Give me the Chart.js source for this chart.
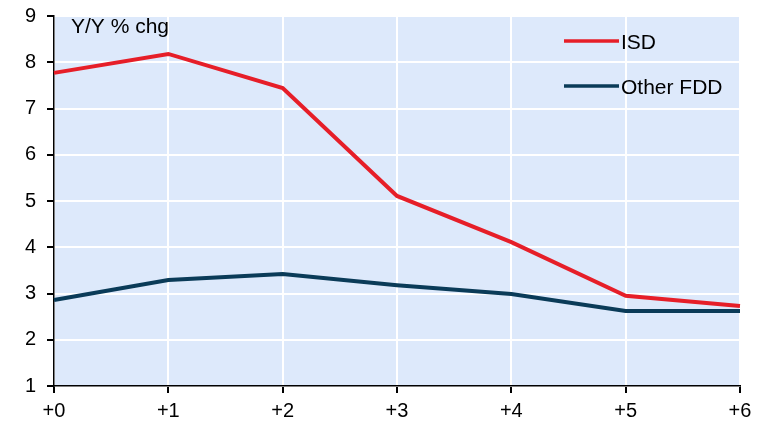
<!DOCTYPE html>
<html><head><meta charset="utf-8">
<script src="https://cdn.jsdelivr.net/npm/chart.js@4/dist/chart.umd.min.js"></script>
<style>html,body{margin:0;padding:0;background:#fff}#wrap{width:769px;height:421px}</style>
</head><body><div id="wrap"><canvas id="c" width="769" height="421"></canvas></div>
<script>
const categories = ['+0','+1','+2','+3','+4','+5','+6'];
const isd = [7.77, 8.18, 7.44, 5.11, 4.11, 2.95, 2.73];
const otherFdd = [2.86, 3.29, 3.42, 3.18, 2.99, 2.62, 2.62];
const yTicks = [1,2,3,4,5,6,7,8,9];
const unitLabel = 'Y/Y % chg';
const FONT = '"Liberation Sans", Arial, sans-serif';

const bgPlugin = {
  id: 'bg',
  beforeDraw(chart) {
    const {ctx, chartArea: a} = chart;
    ctx.save();
    ctx.fillStyle = '#dde9fb';
    ctx.fillRect(a.left, a.top, a.right - a.left, a.bottom - a.top);
    ctx.restore();
  },
  afterDatasetsDraw(chart) {
    const {ctx, chartArea: a} = chart;
    ctx.save();
    ctx.font = '21px ' + FONT;
    ctx.fillStyle = '#000';
    ctx.textBaseline = 'alphabetic';
    ctx.fillText(unitLabel, 71, 33);
    // legend
    chart.data.datasets.forEach((ds, i) => {
      const y = 41 + i * 45;
      ctx.strokeStyle = ds.borderColor;
      ctx.lineWidth = 3.5;
      ctx.beginPath();
      ctx.moveTo(564, y); ctx.lineTo(619, y); ctx.stroke();
      ctx.fillStyle = '#000';
      ctx.textBaseline = 'alphabetic';
      ctx.fillText(ds.label, 621, y + 8);
    });
    ctx.restore();
  }
};

new Chart(document.getElementById('c'), {
  type: 'line',
  data: {
    labels: categories,
    datasets: [
      {label: 'ISD', data: isd, borderColor: '#e61e28', borderWidth: 4, pointRadius: 0, tension: 0, fill: false},
      {label: 'Other FDD', data: otherFdd, borderColor: '#0a3b58', borderWidth: 4, pointRadius: 0, tension: 0, fill: false}
    ]
  },
  options: {
    responsive: false,
    animation: false,
    devicePixelRatio: 1,
    layout: {padding: {top: 16, right: 29, left: 0, bottom: 0}},
    plugins: {legend: {display: false}, tooltip: {enabled: false}},
    scales: {
      x: {
        offset: false,
        grid: {color: '#ffffff', lineWidth: 2, tickColor: '#000', tickLength: 7, drawTicks: true},
        border: {color: '#000', width: 1.5},
        ticks: {color: '#000', font: {family: FONT, size: 20}, padding: 6, maxRotation: 0, autoSkip: false},
        afterFit(s) { s.height = 35; s.paddingLeft = 0; s.paddingRight = 0; }
      },
      y: {
        min: 1, max: 9,
        afterBuildTicks(s) { s.ticks = yTicks.map(v => ({value: v})); },
        grid: {color: '#ffffff', lineWidth: 2, tickColor: '#000', tickLength: 7, drawTicks: true},
        border: {color: '#000', width: 1.5},
        ticks: {color: '#000', font: {family: FONT, size: 20}, padding: 11},
        afterFit(s) { s.width = 54; s.paddingTop = 0; s.paddingBottom = 0; }
      }
    }
  },
  plugins: [bgPlugin]
});
</script></body></html>
